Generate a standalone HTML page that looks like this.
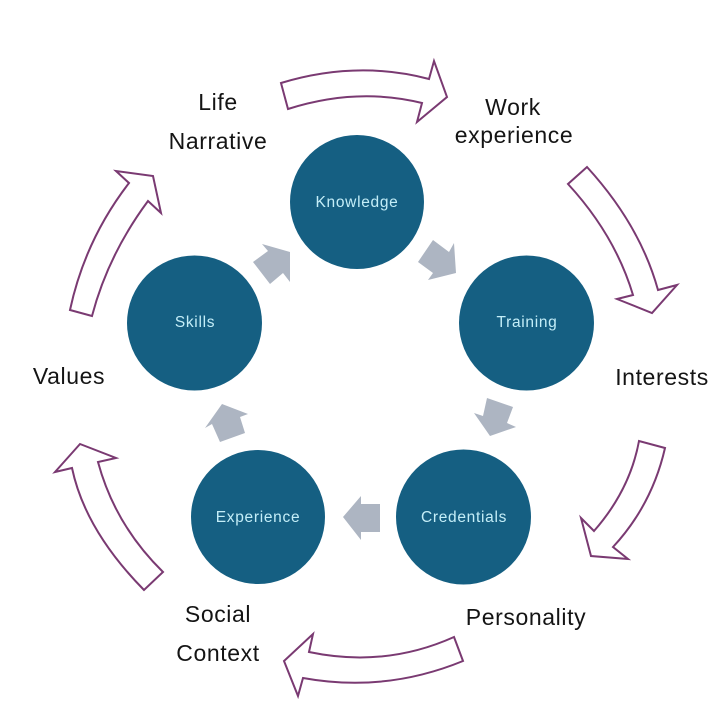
<!DOCTYPE html>
<html>
<head>
<meta charset="utf-8">
<style>
html,body{margin:0;padding:0;background:#fff;}
svg{display:block;}
text{font-family:"Liberation Sans",sans-serif;}
.l{font-size:23px;fill:#141414;text-anchor:middle;letter-spacing:.6px;}
.c{font-size:15.5px;fill:#c4eef8;text-anchor:middle;letter-spacing:.7px;}
.a{fill:#fff;stroke:#7a3a72;stroke-width:2;stroke-linejoin:miter;}
.g{fill:#adb5c2;}
</style>
</head>
<body>
<svg width="720" height="720" viewBox="0 0 720 720" xmlns="http://www.w3.org/2000/svg">
<rect width="720" height="720" fill="#fff"/>
<g fill="#155f82">
<circle cx="357" cy="202" r="67"/>
<circle cx="526.500" cy="323" r="67.500"/>
<circle cx="463.500" cy="517" r="67.500"/>
<circle cx="258" cy="517" r="67"/>
<circle cx="194.500" cy="323" r="67.500"/>
</g>
<path class="a" d="M281 83Q357 60 429 79L434 61L447 97L417 122L422 103Q357 87 288 109Z"/>
<path class="a" d="M587 167Q640 225 658 290L677 285L652 313L617 299L633 295Q615 235 568 184Z"/>
<path class="a" d="M639 441Q630 490 594 531L581 518L591 556L628 559L613 547Q652 505 665 448Z"/>
<path class="a" d="M454 637Q385 668 309 652L313 634L284 661L298 696L303 678Q385 693 463 661Z"/>
<path class="a" d="M144 590Q85 530 72 468L55 472L80 444L116 458L98 462Q115 525 163 572Z"/>
<path class="a" d="M92 316Q108 255 148 201L161 213L153 176L116 171L129 183Q85 240 70 310Z"/>
<polygon class="g" points="262,244 290,252 290,282 283,273 270,284 253,262 268,251"/>
<polygon class="g" points="433,240 449,252 454,243 456,273 428,280 433,273 418,262"/>
<polygon class="g" points="487,398 513,407 507,423 516,427 490,436 474,413 483,416"/>
<polygon class="g" points="343,517 361,496 361,504 380,504 380,532 361,532 361,540"/>
<polygon class="g" points="222,404 248,414 240,417 245,433 220,442 212,424 205,428"/>
<text class="c" x="357" y="207">Knowledge</text>
<text class="c" x="527" y="327">Training</text>
<text class="c" x="464" y="522">Credentials</text>
<text class="c" x="258" y="522">Experience</text>
<text class="c" x="195" y="327">Skills</text>
<text class="l" x="218" y="110">Life</text>
<text class="l" x="218" y="149">Narrative</text>
<text class="l" x="513" y="115">Work</text>
<text class="l" x="514" y="143">experience</text>
<text class="l" x="662" y="385">Interests</text>
<text class="l" x="526" y="625">Personality</text>
<text class="l" x="218" y="622">Social</text>
<text class="l" x="218" y="661">Context</text>
<text class="l" x="69" y="384">Values</text>
</svg>
</body>
</html>
